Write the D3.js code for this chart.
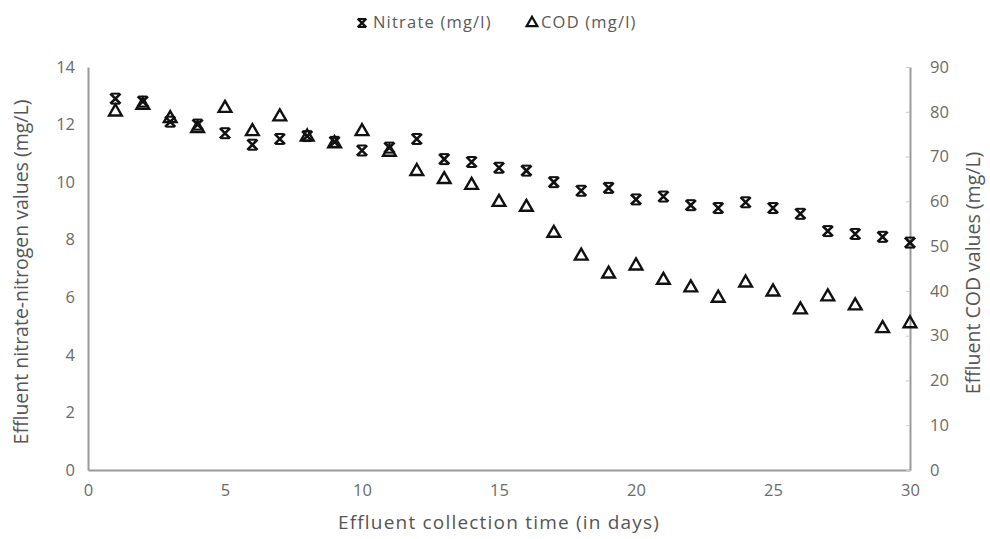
<!DOCTYPE html>
<html lang="en">
<head>
<meta charset="UTF-8">
<title>Effluent nitrate and COD</title>
<script src="https://d3js.org/d3.v7.min.js"></script>
<style>
    body { margin: 0; background: #fff; font-family: "Open Sans", Arial, sans-serif; }
    svg { display: block; }
</style>
</head>
<body>
<div id="chart"></div>
<script>
// data
const days = [1, 2, 3, 4, 5, 6, 7, 8, 9, 10, 11, 12, 13, 14, 15,
              16, 17, 18, 19, 20, 21, 22, 23, 24, 25, 26, 27, 28, 29, 30]
const nitrate = [12.9, 12.8, 12.1, 12.0, 11.7, 11.3, 11.5, 11.6, 11.4, 11.1,
                 11.2, 11.5, 10.8, 10.7, 10.5, 10.4, 10.0, 9.7, 9.8, 9.4,
                 9.5, 9.2, 9.1, 9.3, 9.1, 8.9, 8.3, 8.2, 8.1, 7.9]
const cod = [80.0, 81.5, 78.5, 76.3, 80.8, 75.6, 78.9, 74.4, 72.9, 75.6,
             71.0, 66.7, 64.9, 63.6, 59.8, 58.7, 52.9, 47.8, 43.8, 45.6,
             42.4, 40.7, 38.4, 41.8, 39.8, 35.8, 38.7, 36.7, 31.6, 32.7]
const xTicks = [0, 5, 10, 15, 20, 25, 30]
const leftTicks = [0, 2, 4, 6, 8, 10, 12, 14]
const rightTicks = [0, 10, 20, 30, 40, 50, 60, 70, 80, 90]

const width = 990, height = 539
const margin = { top: 67, right: 80, bottom: 69, left: 88 }
const innerW = width - margin.left - margin.right
const innerH = height - margin.top - margin.bottom

const svg = d3.select("#chart").append("svg")
    .attr("width", width)
    .attr("height", height)

const g = svg.append("g")
    .attr("transform", `translate(${margin.left},${margin.top})`)

const x = d3.scaleLinear().domain([0, 30]).range([0, innerW])
const yL = d3.scaleLinear().domain([0, 14]).range([innerH, 0])
const yR = d3.scaleLinear().domain([0, 90]).range([innerH, 0])

const axisColor = "#9a9a9a"
const labelColor = "#6b6b6b"

// axes
const xAxis = g.append("g")
    .attr("transform", `translate(0,${innerH})`)
    .call(d3.axisBottom(x).tickValues(xTicks).tickSize(0).tickPadding(14))
const leftAxis = g.append("g")
    .call(d3.axisLeft(yL).tickValues(leftTicks).tickSize(0).tickPadding(13))
const rightAxis = g.append("g")
    .attr("transform", `translate(${innerW},0)`)
    .call(d3.axisRight(yR).tickValues(rightTicks).tickSizeInner(-4).tickSizeOuter(0).tickPadding(20))

;[xAxis, leftAxis, rightAxis].forEach(a => {
    a.select(".domain").attr("stroke", axisColor).attr("stroke-width", 2)
    a.selectAll(".tick line").attr("stroke", "#c8c8c8")
    a.selectAll("text")
        .attr("fill", labelColor)
        .style("font-size", "16.5px")
        .style("font-family", "'Open Sans', Arial, sans-serif")
})

// markers
const star = d3.symbol().type(d3.symbolX).size(70)
const tri = d3.symbol().type(d3.symbolTriangle).size(70)

const nitrateG = g.append("g")
nitrateG.selectAll("g")
    .data(days)
    .join("g")
    .attr("transform", (d, i) => `translate(${x(d)},${yL(nitrate[i])})`)
    .each(function () {
        const m = d3.select(this)
        m.append("path").attr("d", star()).attr("fill", "none")
            .attr("stroke", "#111").attr("stroke-width", 2.6)
        m.append("line").attr("x1", -4).attr("x2", 4).attr("y1", -5).attr("y2", -5)
            .attr("stroke", "#111").attr("stroke-width", 2)
        m.append("line").attr("x1", -4).attr("x2", 4).attr("y1", 5).attr("y2", 5)
            .attr("stroke", "#111").attr("stroke-width", 2)
    })

g.append("g").selectAll("path")
    .data(days)
    .join("path")
    .attr("d", tri())
    .attr("transform", (d, i) => `translate(${x(d)},${yR(cod[i])})`)
    .attr("fill", "none")
    .attr("stroke", "#111")
    .attr("stroke-width", 2.4)

// axis titles
svg.append("text")
    .attr("transform", "translate(28,272) rotate(-90)")
    .attr("text-anchor", "middle")
    .attr("fill", "#555")
    .style("font-size", "19.5px")
    .text("Effluent  nitrate-nitrogen values (mg/L)")

svg.append("text")
    .attr("transform", "translate(980,273) rotate(-90)")
    .attr("text-anchor", "middle")
    .attr("fill", "#555")
    .style("font-size", "19.5px")
    .text("Effluent COD values (mg/L)")

svg.append("text")
    .attr("x", 499)
    .attr("y", 529)
    .attr("text-anchor", "middle")
    .attr("fill", "#555")
    .style("font-size", "19px")
    .style("letter-spacing", "1.2px")
    .text("Effluent collection time (in days)")

// legend
const legend = svg.append("g").attr("transform", "translate(0,23)")
const lStar = legend.append("g").attr("transform", "translate(362,0)")
lStar.append("path").attr("d", d3.symbol().type(d3.symbolX).size(50)()).attr("fill", "none")
    .attr("stroke", "#111").attr("stroke-width", 2.4)
lStar.append("line").attr("x1", -4).attr("x2", 4).attr("y1", -4).attr("y2", -4)
    .attr("stroke", "#111").attr("stroke-width", 2)
lStar.append("line").attr("x1", -4).attr("x2", 4).attr("y1", 4).attr("y2", 4)
    .attr("stroke", "#111").attr("stroke-width", 2)
legend.append("text").attr("x", 373).attr("y", 5)
    .attr("fill", "#5a5a5a").style("font-size", "16.5px").style("letter-spacing", "1.2px")
    .text("Nitrate (mg/l)")
legend.append("path").attr("d", d3.symbol().type(d3.symbolTriangle).size(50)())
    .attr("transform", "translate(532,0)")
    .attr("fill", "none").attr("stroke", "#111").attr("stroke-width", 2.2)
legend.append("text").attr("x", 541).attr("y", 5)
    .attr("fill", "#5a5a5a").style("font-size", "16.5px").style("letter-spacing", "1.2px")
    .text("COD (mg/l)")
</script>
</body>
</html>
